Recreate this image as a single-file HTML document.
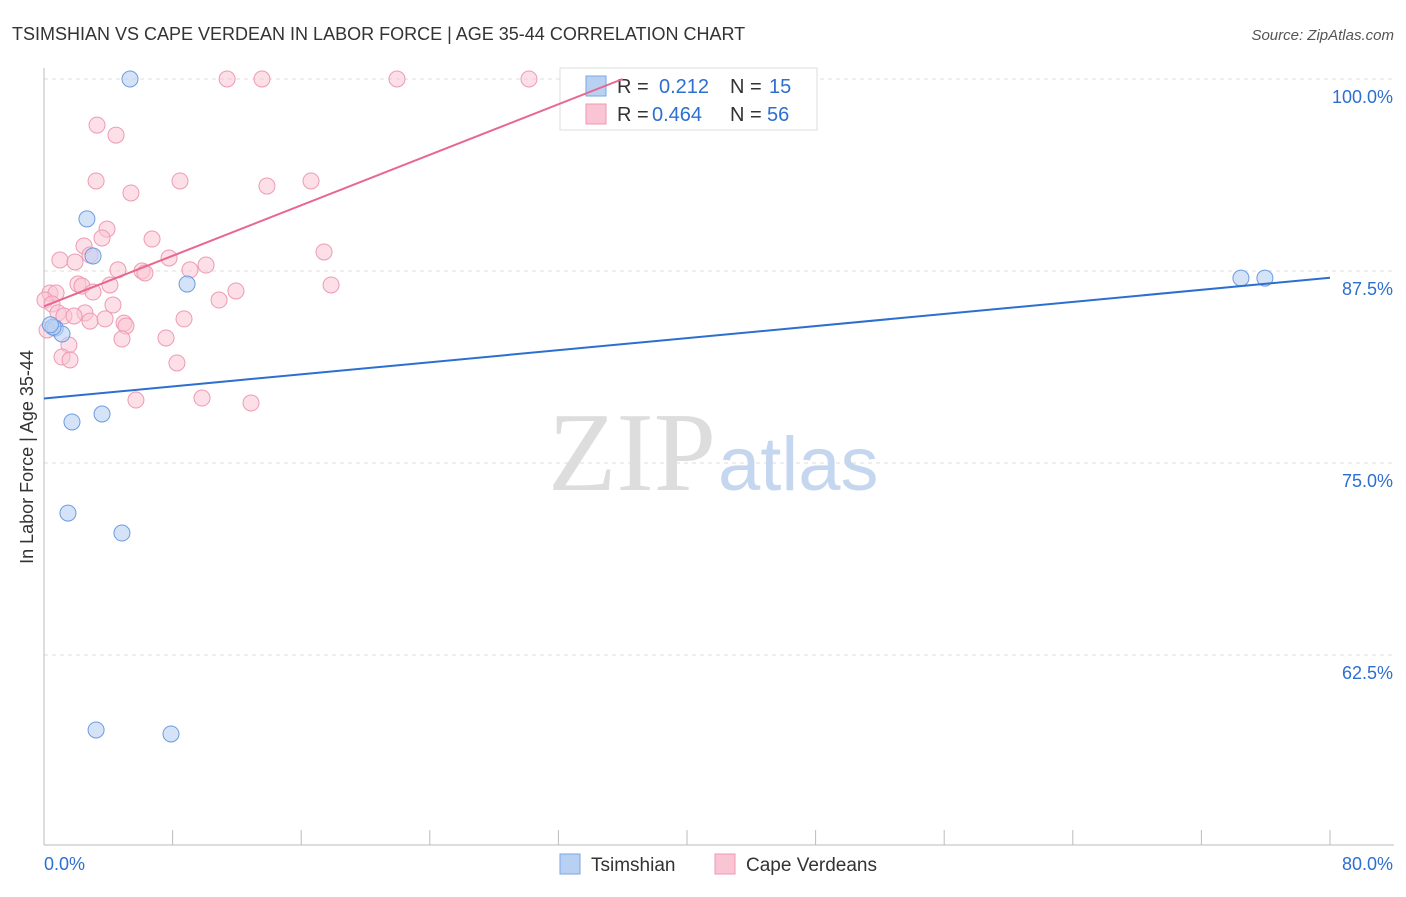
<!DOCTYPE html>
<html><head><meta charset="utf-8"><style>
body{margin:0;background:#fff;font-family:"Liberation Sans",sans-serif;}
svg text{font-family:"Liberation Sans",sans-serif;}
</style></head><body>
<svg id="c" width="1406" height="892">
<text x="12" y="40" font-size="18" fill="#333">TSIMSHIAN VS CAPE VERDEAN IN LABOR FORCE | AGE 35-44 CORRELATION CHART</text>
<text x="1394" y="40" font-size="15" fill="#555" font-style="italic" text-anchor="end">Source: ZipAtlas.com</text>
<text x="33" y="457" font-size="18" fill="#333" text-anchor="middle" transform="rotate(-90 33 457)">In Labor Force | Age 35-44</text>
<g id="grid"></g>
<text x="716" y="490" font-size="112" fill="#ddd" text-anchor="end" style="font-family:'Liberation Serif',serif">ZIP</text>
<text x="718" y="490" font-size="76" fill="#c5d7ef">atlas</text>
<g id="pts"></g>
<g>
<rect x="560" y="68" width="257" height="62" fill="#fff" stroke="#ddd"/>
<rect x="586" y="76" width="20" height="20" fill="#b8d1f3" stroke="#7aa6e0"/>
<rect x="586" y="104" width="20" height="20" fill="#f9c4d4" stroke="#ee9ab4"/>
<text x="617" y="93" font-size="20" fill="#333">R =</text>
<text x="659" y="93" font-size="20" fill="#2d6fd0">0.212</text>
<text x="730" y="93" font-size="20" fill="#333">N =</text>
<text x="769" y="93" font-size="20" fill="#2d6fd0">15</text>
<text x="617" y="121" font-size="20" fill="#333">R =</text>
<text x="652" y="121" font-size="20" fill="#2d6fd0">0.464</text>
<text x="730" y="121" font-size="20" fill="#333">N =</text>
<text x="767" y="121" font-size="20" fill="#2d6fd0">56</text>
</g>
<g id="trend"></g>
<g>
<rect x="560" y="854" width="20" height="20" fill="#b8d1f3" stroke="#7aa6e0"/>
<text x="591" y="871" font-size="19" fill="#333">Tsimshian</text>
<rect x="715" y="854" width="20" height="20" fill="#f9c4d4" stroke="#ee9ab4"/>
<text x="746" y="871" font-size="19" fill="#333">Cape Verdeans</text>
</g>
</svg>
<script>
const yTicks=[100,87.5,75,62.5];
const yTickLabels=["100.0%","87.5%","75.0%","62.5%"];
const blueX=[5.35,2.67,3.05,8.9,0.7,1.12,0.56,1.74,3.61,1.49,4.85,3.24,7.9,74.46,75.95,0.4];
const blueY=[100,90.89,88.48,86.65,83.78,83.4,83.85,77.67,78.19,71.74,70.44,57.62,57.36,87.04,87.04,84.0];
const pinkX=[11.39,13.56,21.96,30.17,3.3,4.48,3.24,8.46,5.41,13.87,16.61,3.92,3.61,6.72,2.49,2.86,17.42,0.99,1.93,7.78,10.08,4.6,6.1,6.28,9.08,17.86,2.11,2.36,4.1,3.05,0.37,0.75,11.94,10.89,0.06,0.5,4.29,0.87,1.24,2.55,1.87,2.86,3.8,8.71,4.98,5.1,0.19,4.85,7.59,1.55,1.12,1.62,8.27,5.72,9.83,12.88];
const pinkY=[100,100,100,100,97.0,96.35,93.36,93.36,92.58,93.03,93.36,90.23,89.65,89.58,89.13,88.54,88.74,88.22,88.09,88.35,87.89,87.57,87.5,87.37,87.57,86.59,86.65,86.52,86.59,86.13,86.07,86.07,86.2,85.61,85.61,85.35,85.29,84.77,84.57,84.77,84.57,84.24,84.38,84.38,84.11,83.92,83.66,83.07,83.14,82.68,81.9,81.71,81.51,79.1,79.23,78.91];
const blueTrend=[0,79.2,80,87.06];
const pinkTrend=[0,85.2,36,100];
const X=v=>44+v/80*1286, Y=v=>79+(100-v)/12.5*192;
const NS="http://www.w3.org/2000/svg";
const g=document.getElementById('grid'), p=document.getElementById('pts'), tr=document.getElementById('trend');
function mk(tag,at,par){const e=document.createElementNS(NS,tag);for(const k in at)e.setAttribute(k,at[k]);par.appendChild(e);return e;}
yTicks.forEach((t,i)=>{
 const l=mk('line',{x1:44,x2:1394,y1:Y(t),y2:Y(t),stroke:'#ddd','stroke-dasharray':'4,4'},g);
 
 
 const tx=mk('text',{x:1393,y:Y(t)+24,'font-size':18,fill:'#2d6fd0','text-anchor':'end'},g);
 tx.textContent=yTickLabels[i];
 
 
});
const ax=mk('line',{x1:44,x2:44,y1:68,y2:845,stroke:'#bbb'},g);


const bx=mk('line',{x1:44,x2:1394,y1:845,y2:845,stroke:'#bbb'},g);


for(let i=0;i<=10;i++){const xx=X(i*8);const t=mk('line',{x1:xx,x2:xx,y1:830,y2:845,stroke:'#bbb'},g);
 
 }
[["0.0%",44,'start'],["80.0%",1393,'end']].forEach(a=>{const t=mk('text',{x:a[1],y:870,'font-size':18,fill:'#2d6fd0','text-anchor':a[2]},g);t.textContent=a[0];
 
 });
pinkX.forEach((x,i)=>{const c=mk('circle',{cx:X(x),cy:Y(pinkY[i]),r:8,fill:'rgba(249,196,212,0.55)',stroke:'#ee9ab4','stroke-width':1},p);
 
 });
blueX.forEach((x,i)=>{const c=mk('circle',{cx:X(x),cy:Y(blueY[i]),r:8,fill:'rgba(184,209,243,0.6)',stroke:'#6d9be0','stroke-width':1},p);
 
 });
const bl=mk('line',{x1:X(blueTrend[0]),y1:Y(blueTrend[1]),x2:X(blueTrend[2]),y2:Y(blueTrend[3]),stroke:'#2d6fd0','stroke-width':2},tr);


const pl=mk('line',{x1:X(pinkTrend[0]),y1:Y(pinkTrend[1]),x2:X(pinkTrend[2]),y2:Y(pinkTrend[3]),stroke:'#e8668f','stroke-width':2},tr);


</script>
</body></html>
